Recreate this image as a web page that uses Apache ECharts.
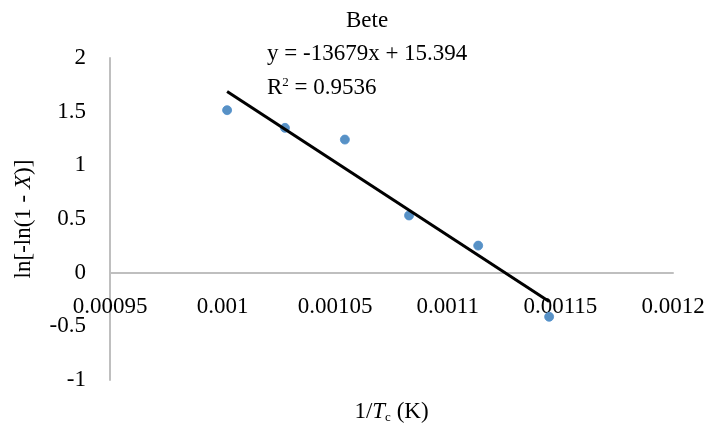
<!DOCTYPE html>
<html>
<head>
<meta charset="utf-8">
<script src="https://cdn.jsdelivr.net/npm/echarts@6/dist/echarts.min.js"></script>
<style>
html,body{margin:0;padding:0;background:#fff;}
#chart{width:713px;height:425px;}
</style>
</head>
<body>
<div id="chart"></div>
<script>
// Data
const invTc = [0.001002, 0.0010277, 0.0010543, 0.0010828, 0.0011135, 0.001145];
const lnVals = [1.514, 1.349, 1.240, 0.533, 0.252, -0.411];
const trendSlope = -13679;
const trendIntercept = 15.394;
const titleText = 'Bete';
const equationText = 'y = -13679x + 15.394';
const r2Value = '0.9536';

const FONT = '"Liberation Serif", "Times New Roman", serif';
const FS = 23;
const points = invTc.map((x, i) => [x, lnVals[i]]);
const xFirst = invTc[0], xLast = invTc[invTc.length - 1];
const trend = [[xFirst, trendSlope * xFirst + trendIntercept], [xLast, trendSlope * xLast + trendIntercept]];

const chart = echarts.init(document.getElementById('chart'), null, {renderer: 'canvas'});
chart.setOption({
  animation: false,
  backgroundColor: '#fff',
  grid: {left: 110, right: 40, top: 58, bottom: 45, containLabel: false, outerBoundsMode: 'none'},
  xAxis: {
    type: 'value', min: 0.00095, max: 0.0012, interval: 0.00005,
    offset: -107,
    axisLine: {onZero: false, lineStyle: {color: '#bfbfbf', width: 2}},
    axisTick: {show: false},
    splitLine: {show: false},
    axisLabel: {
      margin: 22, color: '#000', fontFamily: FONT, fontSize: FS,
      formatter: v => String(parseFloat(v.toPrecision(6)))
    },
    name: '{n|1/}{i|T}{s|c}{n| (K)}',
    nameLocation: 'middle', nameGap: 126,
    nameTextStyle: {
      rich: {
        n: {fontFamily: FONT, fontSize: FS, color: '#000'},
        i: {fontFamily: FONT, fontSize: FS, fontStyle: 'italic', color: '#000'},
        s: {fontFamily: FONT, fontSize: 13, color: '#000', padding: [12, 0, 0, 0]}
      }
    }
  },
  yAxis: {
    type: 'value', min: -1, max: 2, interval: 0.5,
    axisLine: {show: true, onZero: false, lineStyle: {color: '#bfbfbf', width: 2}},
    axisTick: {show: false},
    splitLine: {show: false},
    axisLabel: {margin: 24, color: '#000', fontFamily: FONT, fontSize: FS},
    name: '{n|ln[-ln(1 - }{i|X}{n|)]}',
    nameLocation: 'middle', nameGap: 75,
    nameTextStyle: {
      rich: {
        n: {fontFamily: FONT, fontSize: FS, color: '#000'},
        i: {fontFamily: FONT, fontSize: FS, fontStyle: 'italic', color: '#000'}
      }
    }
  },
  graphic: [
    {type: 'text', left: 346, top: 9, style: {text: titleText, font: FS + 'px ' + FONT, fill: '#000'}},
    {type: 'text', left: 267, top: 42, style: {text: equationText, font: FS + 'px ' + FONT, fill: '#000'}},
    {type: 'text', left: 267, top: 76, style: {
      text: '{n|R}{s|2}{n| = ' + r2Value + '}',
      rich: {
        n: {fontFamily: FONT, fontSize: FS, fill: '#000'},
        s: {fontFamily: FONT, fontSize: 13, fill: '#000', padding: [0, 0, 10, 0]}
      }
    }}
  ],
  series: [
    {
      type: 'scatter', data: points, symbolSize: 9,
      itemStyle: {color: '#2e75b6', borderColor: '#4f8fcc', borderWidth: 1},
      z: 2
    },
    {
      type: 'line', data: trend, showSymbol: false, symbol: 'none',
      lineStyle: {color: '#000', width: 3}, z: 3
    }
  ]
});
</script>
</body>
</html>
